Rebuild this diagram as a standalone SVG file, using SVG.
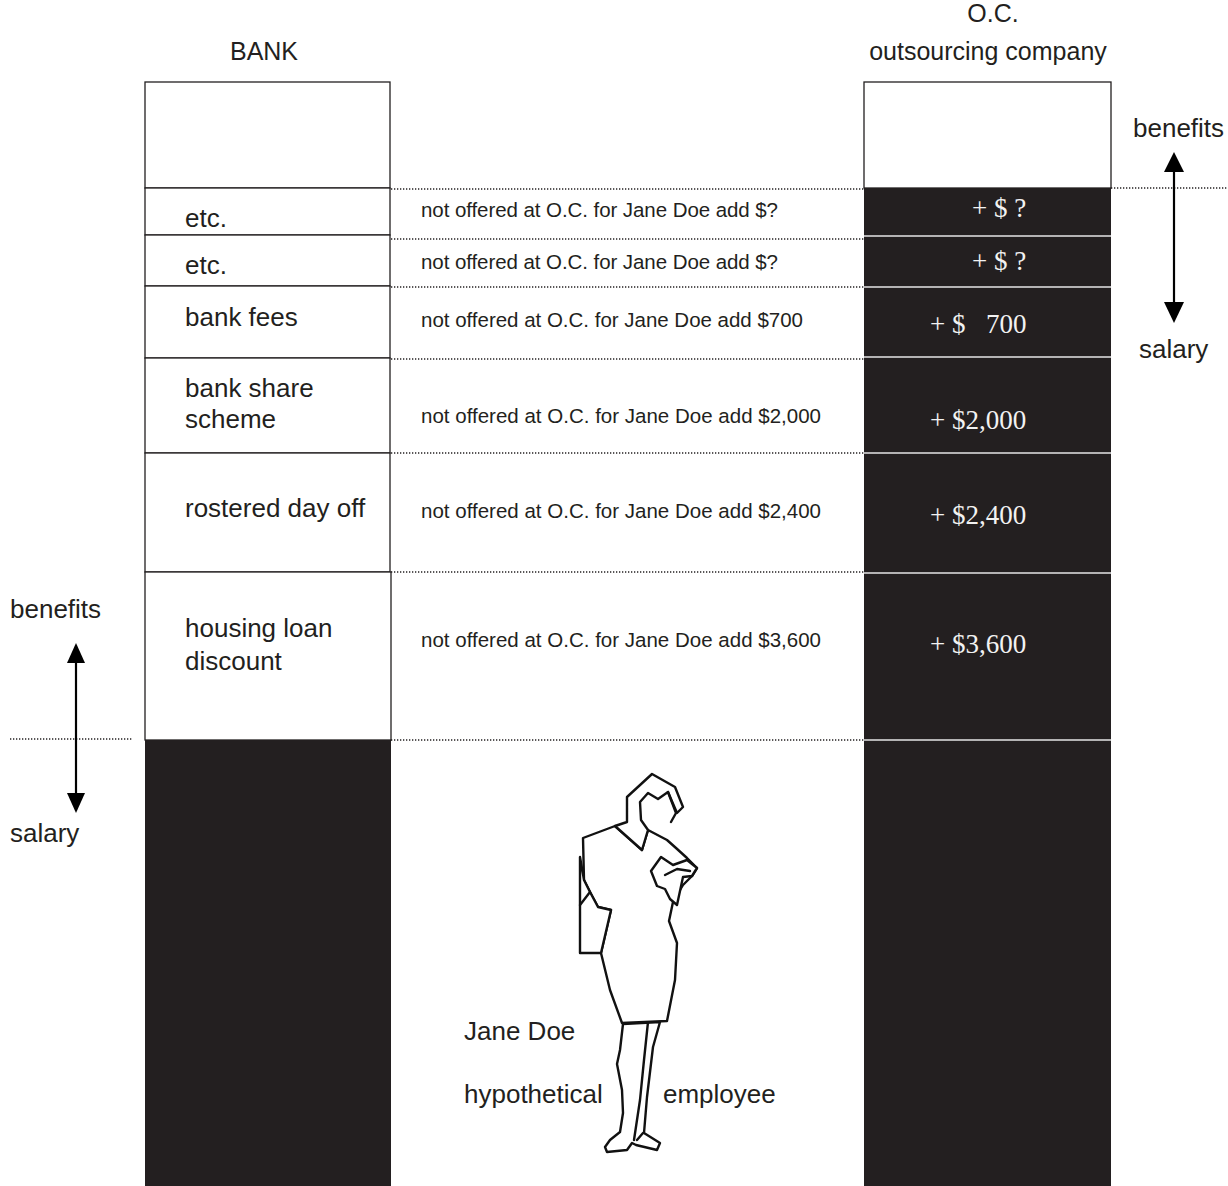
<svg xmlns="http://www.w3.org/2000/svg" width="1228" height="1186" viewBox="0 0 1228 1186">
  <style>
    .sans { font-family: "Liberation Sans", Arial, sans-serif; fill: #231f20; }
    .lbl { font-size: 26px; }
    .mid { font-size: 20.5px; }
    .hdr { font-size: 25px; text-anchor: middle; }
    .val { font-family: "Liberation Serif", "Times New Roman", serif; font-size: 27px; fill: #f2f2f2; }
    .box { fill: #ffffff; stroke: #231f20; stroke-width: 1.3; }
    .dark { fill: #231f20; }
    .sep { stroke: #e6e6e6; stroke-width: 1.5; }
    .dot { stroke: #231f20; stroke-width: 1.6; stroke-dasharray: 1.3 1.7; fill: none; }
    .axis { stroke: #000; stroke-width: 2.2; fill: none; }
    .fig { fill: #ffffff; stroke: #111; stroke-width: 2.4; stroke-linejoin: round; stroke-linecap: round; }
    .figline { fill: none; stroke: #111; stroke-width: 2.4; stroke-linejoin: round; stroke-linecap: round; }
  </style>

  <rect width="1228" height="1186" fill="#ffffff"/>

  <!-- column headings -->
  <g id="headings">
    <text class="sans hdr" x="264" y="60">BANK</text>
    <text class="sans hdr" x="993" y="22">O.C.</text>
    <text class="sans hdr" x="988" y="60">outsourcing company</text>
  </g>

  <!-- bank column -->
  <g id="bank-top"><rect class="box" x="145" y="82" width="245" height="106"/></g>
  <g id="bank-etc-1">
    <rect class="box" x="145" y="188" width="245" height="47"/>
    <text class="sans lbl" x="185" y="227">etc.</text>
  </g>
  <g id="bank-etc-2">
    <rect class="box" x="145" y="235" width="245" height="51"/>
    <text class="sans lbl" x="185" y="274">etc.</text>
  </g>
  <g id="bank-fees">
    <rect class="box" x="145" y="286" width="245" height="72"/>
    <text class="sans lbl" x="185" y="326">bank fees</text>
  </g>
  <g id="bank-share">
    <rect class="box" x="145" y="358" width="245" height="95"/>
    <text class="sans lbl" x="185" y="397">bank share</text>
    <text class="sans lbl" x="185" y="428">scheme</text>
  </g>
  <g id="bank-rdo">
    <rect class="box" x="145" y="453" width="245" height="119"/>
    <text class="sans lbl" x="185" y="517">rostered day off</text>
  </g>
  <g id="bank-housing">
    <rect class="box" x="145" y="572" width="246" height="168"/>
    <text class="sans lbl" x="185" y="637">housing loan</text>
    <text class="sans lbl" x="185" y="670">discount</text>
  </g>
  <g id="bank-salary"><rect class="dark" x="145" y="740" width="246" height="446"/></g>

  <!-- outsourcing company column -->
  <g id="oc-top"><rect class="box" x="864" y="82" width="247" height="106"/></g>
  <g id="oc-salary">
    <rect class="dark" x="864" y="188" width="247" height="998"/>
    <line class="sep" x1="864" y1="236" x2="1111" y2="236"/>
    <line class="sep" x1="864" y1="287" x2="1111" y2="287"/>
    <line class="sep" x1="864" y1="357" x2="1111" y2="357"/>
    <line class="sep" x1="864" y1="453" x2="1111" y2="453"/>
    <line class="sep" x1="864" y1="573" x2="1111" y2="573"/>
    <line class="sep" x1="864" y1="740" x2="1111" y2="740"/>
    <text class="val" x="972" y="217">+ $ ?</text>
    <text class="val" x="972" y="270">+ $ ?</text>
    <text class="val" x="930" y="333">+ $</text>
    <text class="val" x="986" y="333">700</text>
    <text class="val" x="930" y="429">+ $2,000</text>
    <text class="val" x="930" y="524">+ $2,400</text>
    <text class="val" x="930" y="653">+ $3,600</text>
  </g>

  <!-- notes between the columns -->
  <g id="notes">
    <text class="sans mid" x="421" y="217" textLength="357">not offered at O.C. for Jane Doe add $?</text>
    <text class="sans mid" x="421" y="269" textLength="357">not offered at O.C. for Jane Doe add $?</text>
    <text class="sans mid" x="421" y="327" textLength="382">not offered at O.C. for Jane Doe add $700</text>
    <text class="sans mid" x="421" y="423" textLength="400">not offered at O.C. for Jane Doe add $2,000</text>
    <text class="sans mid" x="421" y="518" textLength="400">not offered at O.C. for Jane Doe add $2,400</text>
    <text class="sans mid" x="421" y="647" textLength="400">not offered at O.C. for Jane Doe add $3,600</text>
  </g>

  <!-- dotted guides and benefit/salary axes -->
  <g id="connectors">
    <line class="dot" x1="391" y1="189" x2="864" y2="189"/>
    <line class="dot" x1="391" y1="239" x2="864" y2="239"/>
    <line class="dot" x1="391" y1="287" x2="864" y2="287"/>
    <line class="dot" x1="391" y1="359" x2="864" y2="359"/>
    <line class="dot" x1="391" y1="453" x2="864" y2="453"/>
    <line class="dot" x1="391" y1="572" x2="864" y2="572"/>
    <line class="dot" x1="391" y1="740" x2="864" y2="740"/>
    <line class="dot" x1="1111" y1="188" x2="1228" y2="188"/>
    <line class="dot" x1="10" y1="739" x2="132" y2="739"/>
    <line class="axis" x1="76" y1="663" x2="76" y2="793"/>
    <path d="M76,643 L67,663 L85,663 Z" fill="#000"/>
    <path d="M76,813 L67,793 L85,793 Z" fill="#000"/>
    <line class="axis" x1="1174" y1="172" x2="1174" y2="302"/>
    <path d="M1174,152 L1164,172 L1184,172 Z" fill="#000"/>
    <path d="M1174,323 L1164,302 L1184,302 Z" fill="#000"/>
  </g>

  <g id="axis-labels">
    <text class="sans lbl" x="10" y="618">benefits</text>
    <text class="sans lbl" x="10" y="842">salary</text>
    <text class="sans lbl" x="1133" y="137">benefits</text>
    <text class="sans lbl" x="1139" y="358">salary</text>
  </g>

  <!-- employee figure -->
  <g id="employee">
    <!-- legs -->
    <path class="fig" d="M623,1024 L620,1050 L617,1064 L622,1090 L623,1113 L620,1132 L610,1140 L605,1147 L607,1152 L627,1150 L632,1143 L636,1145 L657,1150 L660,1143 L644,1133 L647,1097 L653,1047 L660,1022 Z"/>
    <path class="figline" d="M648,1022 L644,1060 L640,1100 L634,1140"/>
    <path class="figline" d="M643,1133 L637,1140"/>
    <!-- jacket and skirt -->
    <path class="fig" d="M615,826 L583,838 L584,880 L590,892 L598,907 L611,910 L601,953 L610,990 L622,1023 L667,1021 L675,980 L677,943 L669,921 L673,902 L683,885 L692,876 L697,868 L687,858 L676,848 L667,840 L648,830 L642,850 Z"/>
    <!-- arm hanging behind -->
    <path class="fig" d="M584,880 L580,857 L580,953 L601,953 L611,910 L598,907 L590,892 Z"/>
    <path class="figline" d="M580,905 L590,892"/>
    <!-- hands holding a folded paper -->
    <path class="fig" d="M651,871 L661,857 L673,865 L687,860 L697,868 L692,876 L683,877 L677,905 L670,899 L665,889 L657,886 Z"/>
    <path class="figline" d="M665,875 L677,869 L690,871"/>
    <!-- head and hair -->
    <path class="fig" d="M627,822 L627,797 L652,774 L675,787 L683,807 L677,813 L668,792 L658,799 L648,793 L640,802 L641,820 L648,830 L642,850 L615,826 Z"/>
    <path class="figline" d="M668,792 L676,813 L671,822"/>
    <!-- caption -->
    <text class="sans lbl" x="464" y="1040">Jane Doe</text>
    <text class="sans lbl" x="464" y="1103">hypothetical</text>
    <text class="sans lbl" x="663" y="1103">employee</text>
  </g>
</svg>
